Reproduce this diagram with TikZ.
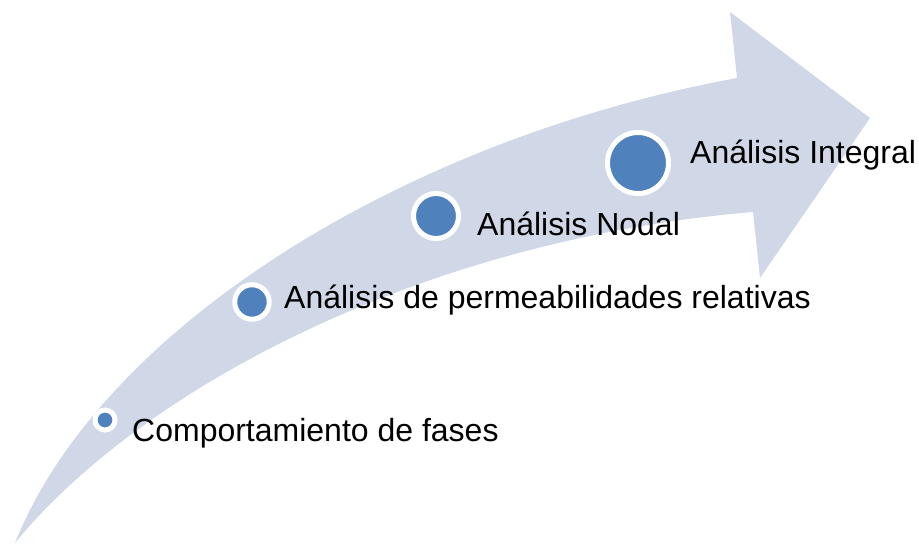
\documentclass[tikz,border=0pt]{standalone}
\usepackage{fontspec}
\setmainfont{Liberation Sans}
\definecolor{arrowfill}{RGB}{208,216,232}
\definecolor{dotblue}{RGB}{79,129,189}
\begin{document}
\begin{tikzpicture}[x=1pt,y=-1pt,
  dot/.style={circle,fill=dotblue,draw=white,line width=5pt,inner sep=0pt},
  lbl/.style={anchor=base west,inner sep=0pt,font=\fontsize{32}{38}\selectfont}]
\useasboundingbox (0,0) rectangle (919,544);
% curved arrow
\fill[arrowfill] (15,543) .. controls (100,330) and (400,140) .. (737,78)
  -- (730,12) -- (870,118) -- (760,278) -- (753,212)
  .. controls (420,240) and (140,390) .. (15,543) -- cycle;
% circles
\node[dot,minimum size=20pt] (d1) at (105,420) {};
\node[dot,minimum size=34.5pt] (d2) at (252,302) {};
\node[dot,minimum size=45pt] (d3) at (436,216) {};
\node[dot,minimum size=61pt] (d4) at (638,163) {};
% labels
\node[lbl] (t1) at (132,441) {Comportamiento de fases};
\node[lbl] (t2) at (284,308) {Análisis de permeabilidades relativas};
\node[lbl] (t3) at (477,235) {Análisis Nodal};
\node[lbl] (t4) at (690,163) {Análisis Integral};
\end{tikzpicture}
\end{document}
